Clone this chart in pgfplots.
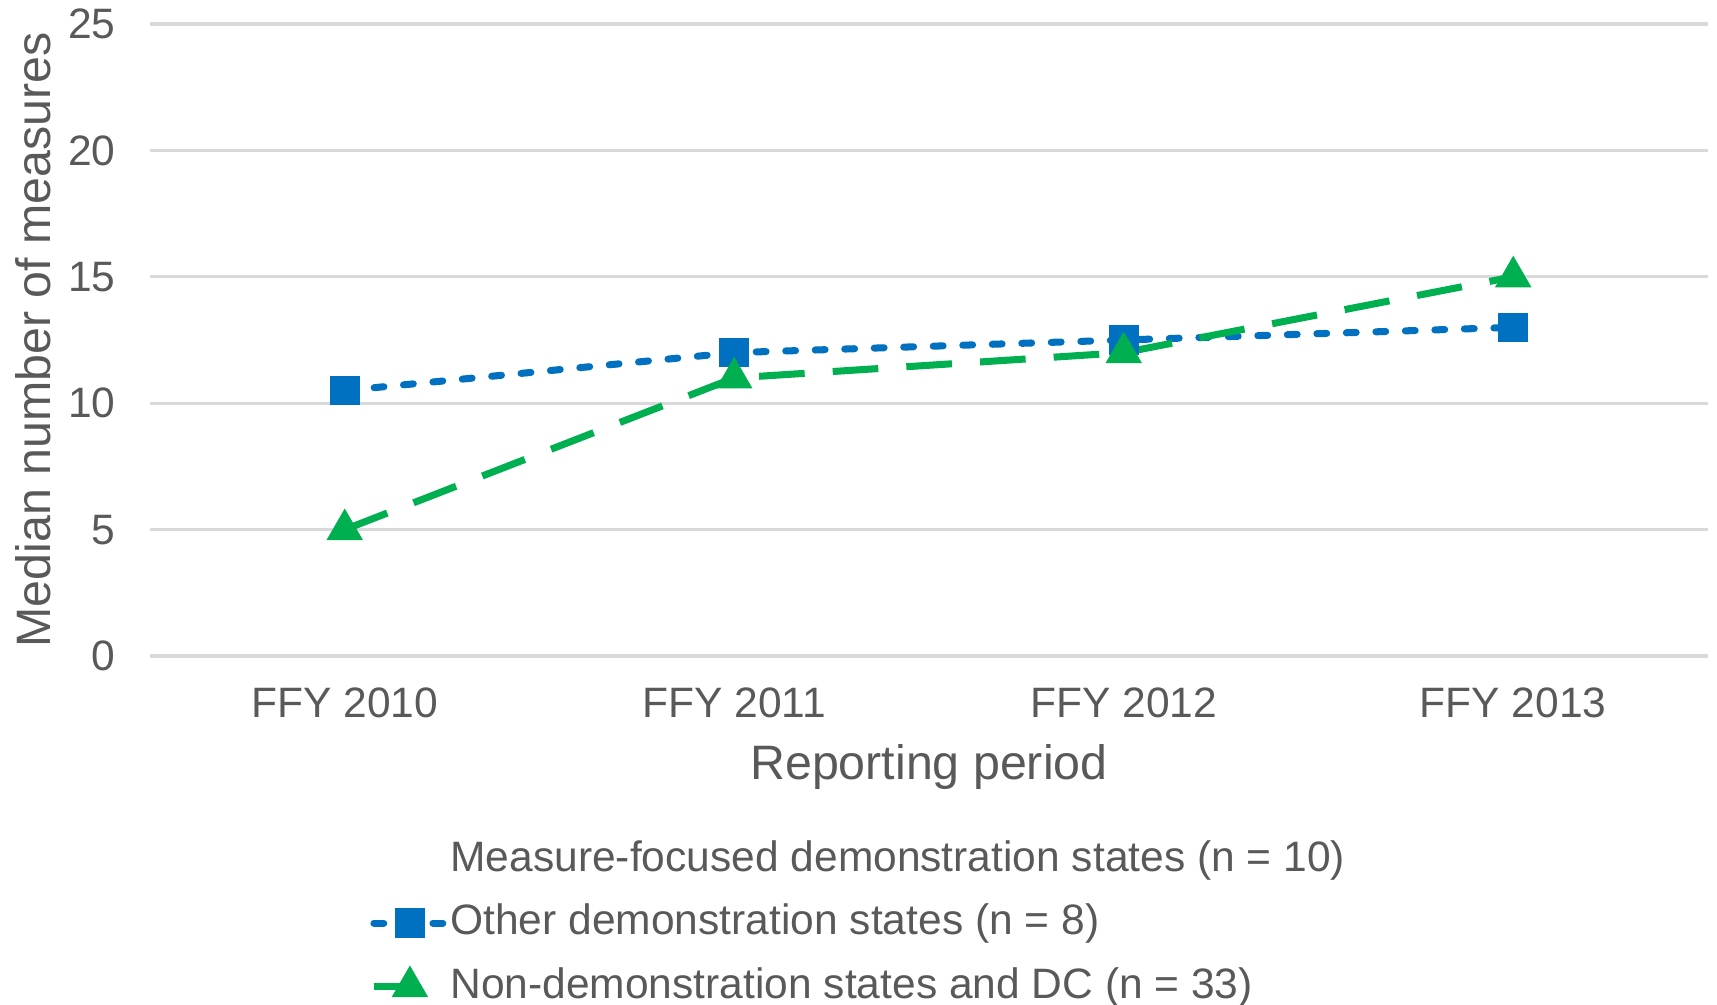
\documentclass[border=0pt]{standalone}
\usepackage{fontspec}
\setmainfont{Liberation Sans}
\usepackage{pgfplots}
\pgfplotsset{compat=1.18}
\definecolor{txt}{HTML}{595959}
\definecolor{grd}{HTML}{D9D9D9}
\definecolor{cblue}{HTML}{0070C0}
\definecolor{cgreen}{HTML}{00B050}
\begin{document}
\begin{tikzpicture}
\begin{axis}[
  name=ax,
  scale only axis,
  width=15.58cm, height=6.32cm,
  xmin=-0.5, xmax=3.5,
  ymin=0, ymax=25,
  xtick={0,1,2,3},
  xticklabels={FFY 2010,FFY 2011,FFY 2012,FFY 2013},
  ytick={0,5,10,15,20,25},
  axis line style={draw=none},
  major tick length=0pt,
  ymajorgrids, grid style={grd, line width=0.9pt},
  /pgf/number format/assume math mode=true,
  tick label style={font=\fontsize{12.1}{14.5}\selectfont, text=txt},
  yticklabel style={xshift=-0.22cm},
  xticklabel style={yshift=-0.19cm},
  xlabel={Reporting period},
  ylabel={Median number of measures},
  label style={font=\fontsize{13.75}{16.5}\selectfont, text=txt},
  xlabel style={at={(axis description cs:0.5,-0.176)}, anchor=center},
  ylabel style={at={(axis description cs:-0.0751,0.5)}, anchor=center},
  legend style={at={(axis description cs:0.141,-0.279)}, anchor=north west,
    draw=none, fill=none, font=\fontsize{12.1}{14.5}\selectfont, text=txt,
    row sep=0.105cm, inner sep=0pt,
    nodes={text height=0.33cm, text depth=0.1cm, inner sep=0.05cm},
    /tikz/every odd column/.append style={column sep=-0.04cm}},
  legend cell align=left,
  legend image code/.code={\draw[mark repeat=2,mark phase=2] plot coordinates {(0cm,0cm)(0.36cm,0cm)(0.72cm,0cm)};},
]
\addlegendimage{legend image code/.code={\path (0cm,0cm) (0.72cm,0cm);}}
\addlegendentry{Measure-focused demonstration states (n = 10)}
\addplot[cblue, line width=2pt, line cap=round, dash pattern=on 2.8pt off 5.6pt,
  mark=square*, mark size=3.2pt, mark options={solid}]
  coordinates {(0,10.5) (1,12) (2,12.5) (3,13)};
\addlegendentry{Other demonstration states (n = 8)}
\addplot[cgreen, line width=2pt, dash pattern=on 13pt off 8pt,
  mark=triangle*, mark size=4pt, mark options={solid}]
  coordinates {(0,5) (1,11) (2,12) (3,15)};
\addlegendentry{Non-demonstration states and DC (n = 33)}
\end{axis}
\pgfresetboundingbox
\path[use as bounding box] ([xshift=-1.50cm,yshift=-3.49cm]ax.south west) rectangle ([xshift=0.09cm,yshift=0.24cm]ax.north east);
\end{tikzpicture}
\end{document}
